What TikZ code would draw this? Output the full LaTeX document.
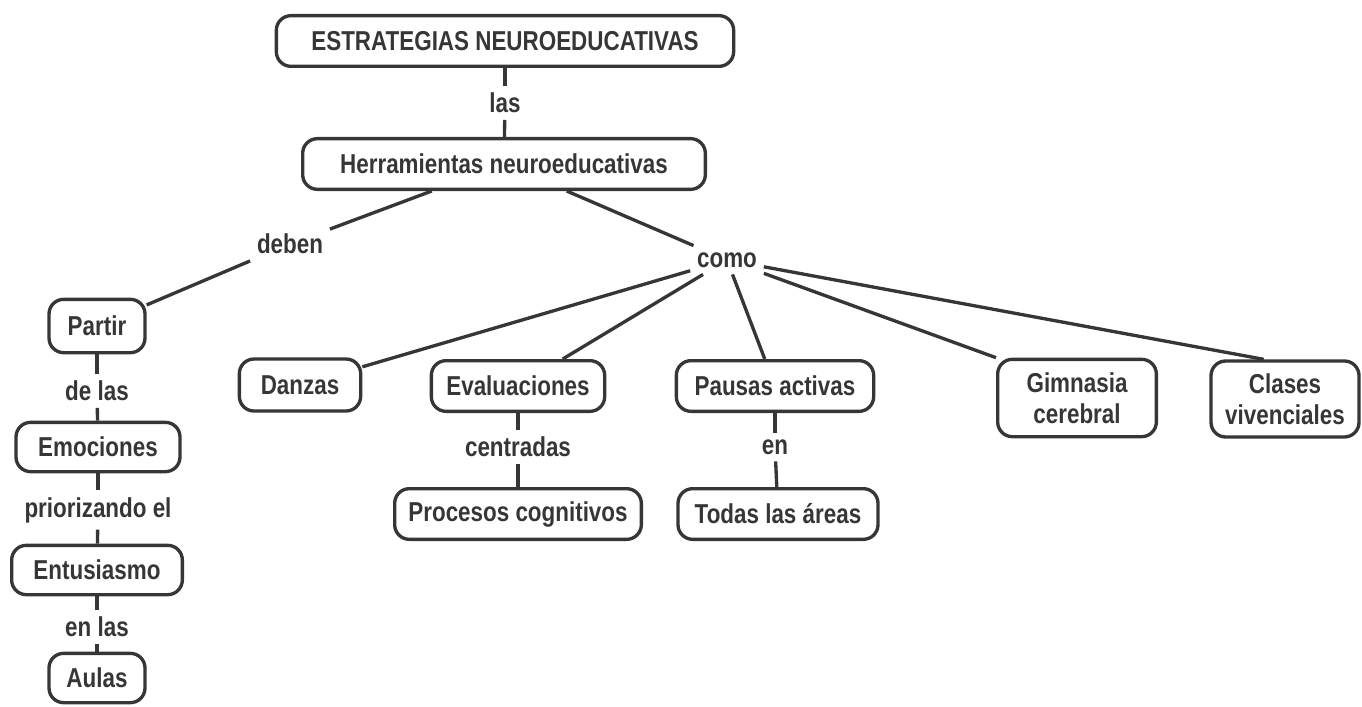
\documentclass[tikz,border=0pt]{standalone}
\usepackage{fontspec}
\setmainfont{Liberation Sans}[FakeStretch=0.82]
\definecolor{ink}{HTML}{363636}
\tikzset{
  box/.style={draw=ink, line width=2.5pt, rounded corners=11pt, inner sep=0pt,
    text=ink, font=\fontsize{20.5}{23.5}\selectfont\bfseries, align=center},
  lbl/.style={text=ink, font=\fontsize{20.5}{23.5}\selectfont\bfseries, inner sep=5pt},
  conn/.style={draw=ink, line width=2.5pt}
}
\begin{document}
\begin{tikzpicture}[x=0.75pt,y=-0.75pt]
\useasboundingbox (0,0) rectangle (1362,706);
% main nodes
\node[box, minimum width=343pt, minimum height=38pt] (estr) at (505,41) {ESTRATEGIAS NEUROEDUCATIVAS};
\node[lbl] (las) at (505,103) {las};
\node[box, minimum width=302pt, minimum height=38pt] (herr) at (504,164) {Herramientas neuroeducativas};
\node[lbl] (deben) at (290,244) {deben};
\node[lbl] (como) at (727,260) {como};
% left column
\node[box, minimum width=72pt, minimum height=40pt] (partir) at (97,326) {Partir};
\node[lbl] (delas) at (97,391) {de las};
\node[box, minimum width=123pt, minimum height=37pt] (emoc) at (98,447) {Emociones};
\node[lbl] (prior) at (98,510) {priorizando el};
\node[box, minimum width=128pt, minimum height=37pt] (entu) at (97,570) {Entusiasmo};
\node[lbl] (enlas) at (97,627) {en las};
\node[box, minimum width=72pt, minimum height=37pt] (aulas) at (97,678) {Aulas};
% como children
\node[box, minimum width=91pt, minimum height=39pt] (danzas) at (300,385) {Danzas};
\node[box, minimum width=130pt, minimum height=38pt] (eval) at (518,386) {Evaluaciones};
\node[lbl] (centr) at (518,447) {centradas};
\node[box, minimum width=185pt, minimum height=38pt] (proc) at (518,514) {Procesos cognitivos};
\node[box, minimum width=148pt, minimum height=38pt] (pausas) at (775,386) {Pausas activas};
\node[lbl] (en) at (775,447) {en};
\node[box, minimum width=150pt, minimum height=38pt] (todas) at (778,514) {Todas las áreas};
\node[box, minimum width=119pt, minimum height=58pt] (gimn) at (1077,398) {Gimnasia\\cerebral};
\node[box, minimum width=111pt, minimum height=57pt] (clases) at (1285,399) {Clases\\vivenciales};
% connectors
\draw[conn] (estr) -- (las);
\draw[conn] (las) -- (herr);
\draw[conn] (herr) -- (deben);
\draw[conn] (deben) -- (partir);
\draw[conn] (herr) -- (como);
\draw[conn] (partir) -- (delas);
\draw[conn] (delas) -- (emoc);
\draw[conn] (emoc) -- (prior);
\draw[conn] (prior) -- (entu);
\draw[conn] (entu) -- (enlas);
\draw[conn] (enlas) -- (aulas);
\draw[conn] (como) -- (danzas);
\draw[conn] (como) -- (eval);
\draw[conn] (como) -- (pausas);
\draw[conn] (como) -- (gimn.north west);
\draw[conn] (como) -- ([xshift=-16pt]clases.north);
\draw[conn] (eval) -- (centr);
\draw[conn] (centr) -- (proc);
\draw[conn] (pausas) -- (en);
\draw[conn] (en) -- (todas);
\end{tikzpicture}
\end{document}
